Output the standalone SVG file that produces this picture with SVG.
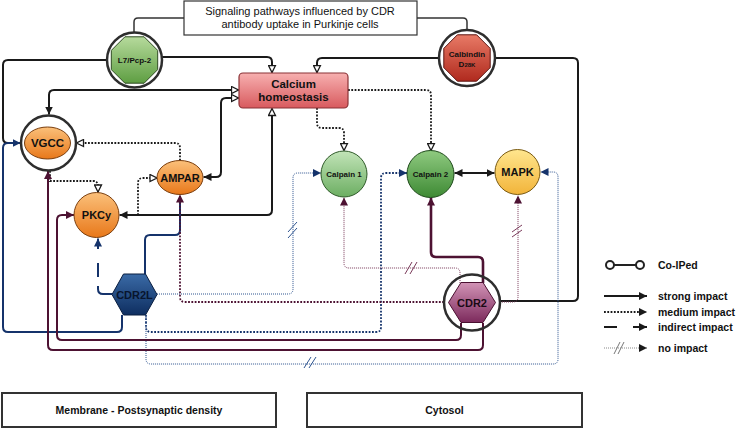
<svg xmlns="http://www.w3.org/2000/svg" width="738" height="429" viewBox="0 0 738 429">
<style>
text{font-family:"Liberation Sans",Arial,sans-serif;font-weight:bold;fill:#111;text-anchor:middle}
.t{font-weight:normal;font-size:11px}
.s{fill:none;stroke:#1a1a1a;stroke-width:2}
.m{fill:none;stroke:#1a1a1a;stroke-width:1.8;stroke-dasharray:1.8 1.5}
.bs{fill:none;stroke:#15336b;stroke-width:2}
.bm{fill:none;stroke:#15336b;stroke-width:1.8;stroke-dasharray:1.8 1.5}
.bn{fill:none;stroke:#2f5590;stroke-width:1;stroke-dasharray:1 1}
.rs{fill:none;stroke:#4d1232;stroke-width:2}
.rm{fill:none;stroke:#4d1232;stroke-width:1.8;stroke-dasharray:1.8 1.5}
.rn{fill:none;stroke:#7a3a5a;stroke-width:1;stroke-dasharray:1 1}
.sb{stroke:#2f5590;stroke-width:1}
.sr{stroke:#7a3a5a;stroke-width:1}
.ring{fill:#fff;stroke:#2e2e2e;stroke-width:2.5}
.box{fill:#fff;stroke:#333;stroke-width:2}
</style>
<defs>
<marker id="af" viewBox="0 0 8 8" refX="8" refY="4" markerWidth="8" markerHeight="8" markerUnits="userSpaceOnUse" orient="auto-start-reverse"><path d="M0,0 L8,4 L0,8 z" fill="#1a1a1a"/></marker>
<marker id="ah" viewBox="0 0 9 9" refX="8" refY="4.5" markerWidth="9" markerHeight="9" markerUnits="userSpaceOnUse" orient="auto-start-reverse"><path d="M1,1 L8,4.5 L1,8 z" fill="#fff" stroke="#1a1a1a" stroke-width="1.3"/></marker>
<marker id="ab" viewBox="0 0 8 8" refX="8" refY="4" markerWidth="8" markerHeight="8" markerUnits="userSpaceOnUse" orient="auto"><path d="M0,0 L8,4 L0,8 z" fill="#15336b"/></marker>
<marker id="ar" viewBox="0 0 8 8" refX="8" refY="4" markerWidth="8" markerHeight="8" markerUnits="userSpaceOnUse" orient="auto"><path d="M0,0 L8,4 L0,8 z" fill="#4d1232"/></marker>
<linearGradient id="gor" x1="0" y1="0" x2="0" y2="1"><stop offset="0" stop-color="#fbc07a"/><stop offset="1" stop-color="#e8781a"/></linearGradient>
<linearGradient id="gca" x1="0" y1="0" x2="0" y2="1"><stop offset="0" stop-color="#f7b0b0"/><stop offset="1" stop-color="#d85a5e"/></linearGradient>
<linearGradient id="gc1" x1="0" y1="0" x2="0" y2="1"><stop offset="0" stop-color="#c2e4b8"/><stop offset="1" stop-color="#6cae62"/></linearGradient>
<linearGradient id="gc2" x1="0" y1="0" x2="0" y2="1"><stop offset="0" stop-color="#8fca80"/><stop offset="1" stop-color="#3e8a34"/></linearGradient>
<linearGradient id="gmk" x1="0" y1="0" x2="0" y2="1"><stop offset="0" stop-color="#ffe68e"/><stop offset="1" stop-color="#f2b43a"/></linearGradient>
<linearGradient id="gl7" x1="0" y1="0" x2="0" y2="1"><stop offset="0" stop-color="#b6da9c"/><stop offset="1" stop-color="#5e9e42"/></linearGradient>
<linearGradient id="gcb" x1="0" y1="0" x2="0" y2="1"><stop offset="0" stop-color="#e87a66"/><stop offset="1" stop-color="#b02a1e"/></linearGradient>
<linearGradient id="gbl" x1="0" y1="0" x2="0" y2="1"><stop offset="0" stop-color="#3a6aa6"/><stop offset="1" stop-color="#0e2e60"/></linearGradient>
<linearGradient id="gpu" x1="0" y1="0" x2="0" y2="1"><stop offset="0" stop-color="#d294b6"/><stop offset="1" stop-color="#7c2a5c"/></linearGradient>
<polygon id="oct" points="9.6,-23.2 23.2,-9.6 23.2,9.6 9.6,23.2 -9.6,23.2 -23.2,9.6 -23.2,-9.6 -9.6,-23.2"/>
</defs>

<g id="title">
<path class="s" d="M134,32 V22 Q134,18 138,18 H184" style="stroke:#333;stroke-width:1.5"/>
<path class="s" d="M467,30 V22 Q467,18 463,18 H417" style="stroke:#333;stroke-width:1.5"/>
<rect x="184" y="1" width="233" height="34" fill="#fff" stroke="#333" stroke-width="1.2"/>
<text class="t" x="300" y="15">Signaling pathways influenced by CDR</text>
<text class="t" x="300" y="28">antibody uptake in Purkinje cells</text>
</g>

<g id="connectors">
<path class="s" d="M107,60 H8 Q3,60 3,65 V138 Q3,143 8,143 H14"/>
<path class="s" d="M162,57 H267 Q272,57 272,62 V72.5" marker-end="url(#ah)"/>
<path class="s" d="M439,58 H322 Q317,58 317,63 V72.5" marker-end="url(#ah)"/>
<path class="s" d="M495,58 H573 Q578,58 578,63 V296 Q578,301 573,301 H500"/>
<path class="s" d="M238.5,90 H54 Q49,90 49,95 V114.5" marker-start="url(#ah)" marker-end="url(#af)"/>
<path class="s" d="M238.5,98 H226 Q221,98 221,103 V172 Q221,177 216,177 H203.5" marker-start="url(#ah)" marker-end="url(#af)"/>
<path class="s" d="M272,108.5 V210 Q272,215 267,215 H119.5" marker-start="url(#ah)" marker-end="url(#af)"/>
<path class="s" d="M454.5,173 H494.5" marker-start="url(#af)" marker-end="url(#af)"/>
<path class="m" d="M317,108 V123 Q317,128 322,128 H339 Q344,128 344,133 V150.5" marker-end="url(#ah)"/>
<path class="m" d="M348,90 H426 Q431,90 431,95 V150.5" marker-end="url(#ah)"/>
<path class="m" d="M180,160.5 V148 Q180,143 175,143 H76.5" marker-end="url(#ah)"/>
<path class="m" d="M50,171 V181 H93 Q98,181 98,186 V192" marker-end="url(#ah)"/>
<path class="m" d="M138,215 V183 Q138,178 143,178 H157" marker-end="url(#ah)"/>
<path class="bs" d="M122,315 V327 Q122,332 117,332 H8 Q3,332 3,327 V148 Q3,143 8,143 H20.5" marker-end="url(#ab)"/>
<path class="bs" d="M145,274 V240 Q145,235 150,235 H175 Q180,235 180,230 V196"/>
<path class="bs" d="M112,294 H103 Q98,294 98,289 V286"/>
<path class="bs" d="M98,277 V263"/>
<path class="bs" d="M98,249 V238.5" marker-end="url(#ab)"/>
<path class="bm" d="M146,315 V327 Q146,332 151,332 H376 Q381,332 381,327 V178 Q381,173 386,173 H407" marker-end="url(#ab)"/>
<path class="bn" d="M157,294 H288 Q293,294 293,289 V178 Q293,173 298,173 H321" marker-end="url(#ab)"/>
<path class="bn" d="M146,315 V359 Q146,364 151,364 H553 Q558,364 558,359 V177 Q558,172 553,172 H540.5" marker-end="url(#ab)"/>
<path class="rm" d="M444,302 H185 Q180,302 180,297 V194.5" marker-end="url(#ar)"/>
<path class="rs" d="M483,283 V262 Q483,257 478,257 H436 Q431,257 431,252 V197.5" style="stroke-width:2.6" marker-end="url(#ar)"/>
<path class="rn" d="M460,283 V273 Q460,268 455,268 H349 Q344,268 344,263 V197.5" marker-end="url(#ar)"/>
<path class="rn" d="M500,302 H513 Q518,302 518,297 V195.5" marker-end="url(#ar)"/>
<path class="rs" d="M461,323 V335 Q461,340 456,340 H62 Q57,340 57,335 V220 Q57,215 62,215 H74" marker-end="url(#ar)"/>
<path class="rs" d="M483,323 V345 Q483,350 478,350 H53 Q48,350 48,345 V171" marker-end="url(#ar)"/>
<path class="sb" d="M288,232 L297,222 M288,238 L297,228"/>
<path class="sb" d="M304,368 L311,357 M309,368 L316,357"/>
<path class="sr" d="M405,274 L412,262 M410,274 L417,262"/>
<path class="sr" d="M512,232 L522,225 M512,237 L522,230"/>
</g>

<g id="VGCC">
<circle class="ring" cx="48.5" cy="143" r="27.5"/>
<ellipse cx="47.5" cy="143" rx="23" ry="16" fill="url(#gor)" stroke="#7a3e0e" stroke-width="1"/>
<text x="47.5" y="147" font-size="11.5">VGCC</text>
</g>
<g id="AMPAR">
<ellipse cx="180" cy="177.5" rx="23" ry="17" fill="url(#gor)" stroke="#7a3e0e" stroke-width="1"/>
<text x="180" y="181.5" font-size="11">AMPAR</text>
</g>
<g id="PKCy">
<circle cx="96.5" cy="215" r="22.5" fill="url(#gor)" stroke="#7a3e0e" stroke-width="1"/>
<text x="96.5" y="219" font-size="11">PKCy</text>
</g>
<g id="calcium">
<rect x="239" y="73" width="109" height="35" rx="4" fill="url(#gca)" stroke="#8a3236" stroke-width="1.2"/>
<text x="293.5" y="88" font-size="11.5">Calcium</text>
<text x="293.5" y="101" font-size="11.5">homeostasis</text>
</g>
<g id="calpain1">
<circle cx="344" cy="174" r="23" fill="url(#gc1)" stroke="#2e5a28" stroke-width="1"/>
<text x="344" y="177" font-size="8">Calpain 1</text>
</g>
<g id="calpain2">
<circle cx="430.5" cy="174" r="23.5" fill="url(#gc2)" stroke="#1e4a1a" stroke-width="1"/>
<text x="430.5" y="177" font-size="8">Calpain 2</text>
</g>
<g id="MAPK">
<circle cx="517.5" cy="172" r="22.5" fill="url(#gmk)" stroke="#7a5a10" stroke-width="1"/>
<text x="517.5" y="176" font-size="11">MAPK</text>
</g>
<g id="L7" transform="translate(134.5,60)">
<circle class="ring" r="27.5"/>
<use href="#oct" fill="url(#gl7)" stroke="#2e4a22" stroke-width="1"/>
<text x="0" y="3" font-size="8">L7/Pcp-2</text>
</g>
<g id="calbindin" transform="translate(467,58)">
<circle class="ring" r="28"/>
<use href="#oct" fill="url(#gcb)" stroke="#5a1410" stroke-width="1"/>
<text x="0" y="-1" font-size="8">Calbindin</text>
<text x="0" y="9" font-size="8">D<tspan font-size="6">28K</tspan></text>
</g>
<g id="CDR2L" transform="translate(134.5,294.5)">
<polygon points="-11,-20.5 11,-20.5 22.5,0 11,20.5 -11,20.5 -22.5,0" fill="url(#gbl)" stroke="#0a1e40" stroke-width="1"/>
<text x="0" y="4" font-size="11" font-weight="normal" style="fill:#08152e">CDR2L</text>
</g>
<g id="CDR2" transform="translate(472,302.5)">
<circle r="28" fill="none" stroke="#2e2e2e" stroke-width="2.5"/>
<polygon points="-11,-20 11,-20 23.5,0 11,20 -11,20 -23.5,0" fill="url(#gpu)" stroke="#4a1030" stroke-width="1"/>
<text x="0" y="4" font-size="11" font-weight="normal" style="fill:#1a0a14">CDR2</text>
</g>

<g id="legend">
<path d="M614,265 H636" stroke="#222" stroke-width="2"/>
<circle cx="610" cy="265" r="4" fill="#fff" stroke="#222" stroke-width="2"/>
<circle cx="640" cy="265" r="4" fill="#fff" stroke="#222" stroke-width="2"/>
<path class="s" d="M604,296 H647" marker-end="url(#af)"/>
<path class="m" d="M604,312 H647" marker-end="url(#af)"/>
<path class="s" d="M604,327 H617"/>
<path class="s" d="M633,327 H647" marker-end="url(#af)"/>
<path d="M604,348 H647" fill="none" stroke="#888" stroke-width="1" stroke-dasharray="1 1" marker-end="url(#af)"/>
<path d="M614,354 L620,342 M618,354 L624,342" stroke="#777" stroke-width="1"/>
<text x="658" y="269" font-size="10.5" style="text-anchor:start">Co-IPed</text>
<text x="658" y="300" font-size="10.5" style="text-anchor:start">strong impact</text>
<text x="658" y="316" font-size="10.5" style="text-anchor:start">medium impact</text>
<text x="658" y="331" font-size="10.5" style="text-anchor:start">indirect impact</text>
<text x="658" y="352" font-size="10.5" style="text-anchor:start">no impact</text>
</g>

<g id="membrane">
<rect class="box" x="2" y="393" width="274" height="34"/>
<text x="139" y="414" font-size="10.5">Membrane - Postsynaptic density</text>
</g>
<g id="cytosol">
<rect class="box" x="307" y="393" width="275" height="34"/>
<text x="444.5" y="414" font-size="10.5">Cytosol</text>
</g>
</svg>
